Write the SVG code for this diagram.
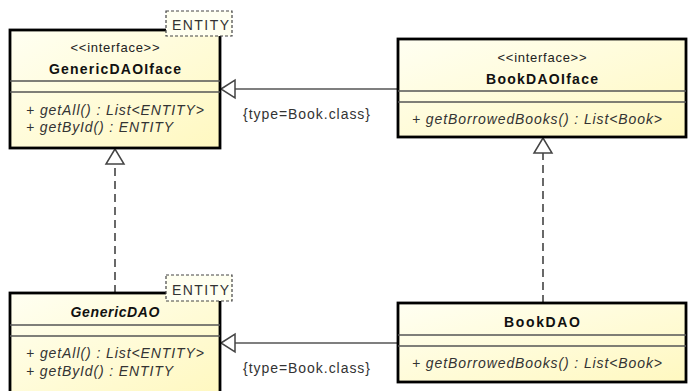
<svg xmlns="http://www.w3.org/2000/svg" width="688" height="391" viewBox="0 0 688 391">
<style>
text{font-family:"Liberation Sans",Arial,sans-serif;fill:#111}
.box{stroke:#000;stroke-width:2.8;fill:url(#g)}
.sep{stroke:#555;stroke-width:1.5}
.st{font-size:13px;text-anchor:middle;fill:#222}
.ti{font-size:14px;font-weight:bold;text-anchor:middle}
.ab{font-style:italic}
.m{font-size:14px;font-style:italic;fill:#333}
.tp{fill:#fffff0;stroke:#444;stroke-width:1.2;stroke-dasharray:3,2}
.tpt{font-size:14px;fill:#333}
.ln{stroke:#555;stroke-width:1.6;fill:none}
.dl{stroke:#444;stroke-width:1.6;fill:none;stroke-dasharray:8,5}
.tri{fill:#fff;stroke:#444;stroke-width:1.5}
.lb{font-size:14px;fill:#333}
</style>
<defs>
<linearGradient id="g" x1="0" y1="0" x2="1" y2="1">
<stop offset="0" stop-color="#fffff2"/>
<stop offset="1" stop-color="#fff8c0"/>
</linearGradient>
</defs>
<g id="connectors">
<line class="ln" x1="398" y1="89" x2="235" y2="89"/>
<polygon class="tri" points="221,89 235,80 235,98"/>
<text class="lb" x="243" y="119" textLength="127" lengthAdjust="spacing">{type=Book.class}</text>
<line class="ln" x1="398" y1="343" x2="235" y2="343"/>
<polygon class="tri" points="221,343 235,334 235,352"/>
<text class="lb" x="243" y="373" textLength="127" lengthAdjust="spacing">{type=Book.class}</text>
<line class="dl" x1="115" y1="293" x2="115" y2="164"/>
<polygon class="tri" points="115,149 106,164 124,164"/>
<line class="dl" x1="543" y1="303" x2="543" y2="153"/>
<polygon class="tri" points="543,138 534,153 552,153"/>
</g>
<g id="GenericDAOIface">
<rect class="box" x="10" y="30" width="210" height="118"/>
<line class="sep" x1="10" y1="81" x2="220" y2="81"/>
<line class="sep" x1="10" y1="92" x2="220" y2="92"/>
<text class="st" x="115" y="52" textLength="89" lengthAdjust="spacing">&lt;&lt;interface&gt;&gt;</text>
<text class="ti" x="115" y="74" textLength="132" lengthAdjust="spacing">GenericDAOIface</text>
<text class="m" x="26" y="115" textLength="178" lengthAdjust="spacing">+ getAll() : List&lt;ENTITY&gt;</text>
<text class="m" x="26" y="132" textLength="147" lengthAdjust="spacing">+ getById() : ENTITY</text>
<rect class="tp" x="166" y="11" width="66" height="25"/>
<text class="tpt" x="172" y="30" textLength="57" lengthAdjust="spacing">ENTITY</text>
</g>
<g id="BookDAOIface">
<rect class="box" x="398" y="39" width="288" height="98"/>
<line class="sep" x1="398" y1="91" x2="686" y2="91"/>
<line class="sep" x1="398" y1="102" x2="686" y2="102"/>
<text class="st" x="542" y="62" textLength="89" lengthAdjust="spacing">&lt;&lt;interface&gt;&gt;</text>
<text class="ti" x="542" y="84" textLength="112" lengthAdjust="spacing">BookDAOIface</text>
<text class="m" x="412" y="124" textLength="250" lengthAdjust="spacing">+ getBorrowedBooks() : List&lt;Book&gt;</text>
</g>
<g id="GenericDAO">
<rect class="box" x="10" y="293" width="210" height="101"/>
<line class="sep" x1="10" y1="325" x2="220" y2="325"/>
<line class="sep" x1="10" y1="336" x2="220" y2="336"/>
<text class="ti ab" x="115" y="317" textLength="89" lengthAdjust="spacing">GenericDAO</text>
<text class="m" x="26" y="358" textLength="178" lengthAdjust="spacing">+ getAll() : List&lt;ENTITY&gt;</text>
<text class="m" x="26" y="376" textLength="147" lengthAdjust="spacing">+ getById() : ENTITY</text>
<rect class="tp" x="166" y="275" width="66" height="26"/>
<text class="tpt" x="172" y="295" textLength="57" lengthAdjust="spacing">ENTITY</text>
</g>
<g id="BookDAO">
<rect class="box" x="398" y="303" width="288" height="79"/>
<line class="sep" x1="398" y1="335" x2="686" y2="335"/>
<line class="sep" x1="398" y1="346" x2="686" y2="346"/>
<text class="ti" x="542" y="327" textLength="76" lengthAdjust="spacing">BookDAO</text>
<text class="m" x="412" y="368" textLength="250" lengthAdjust="spacing">+ getBorrowedBooks() : List&lt;Book&gt;</text>
</g>
</svg>
